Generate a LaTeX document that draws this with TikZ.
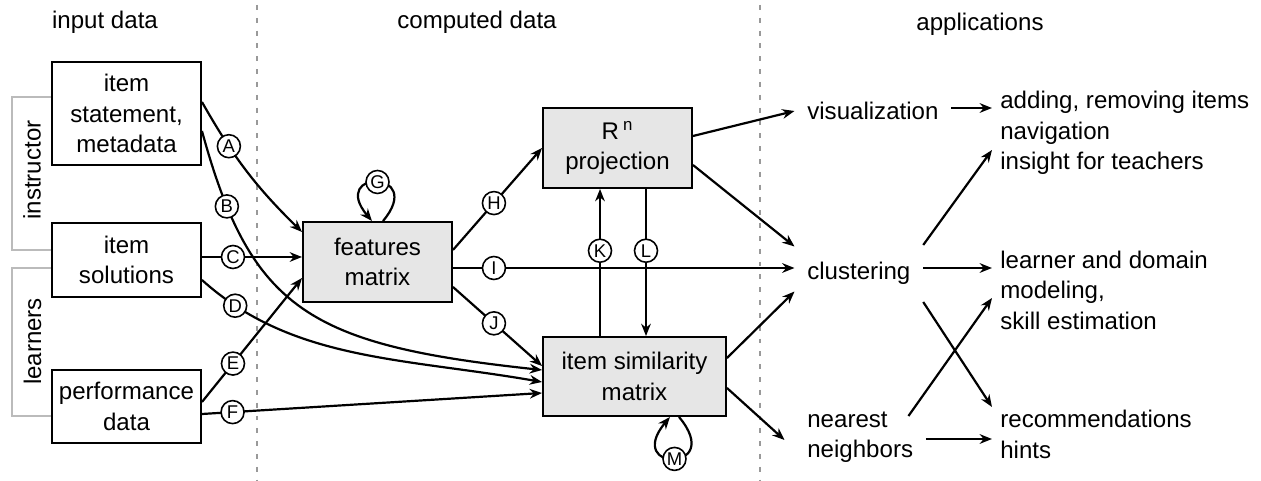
\documentclass[tikz,border=0pt]{standalone}
\usepackage{fontspec}
\setmainfont{Liberation Sans}
\usepackage{tikz}
\usepackage{xcolor}
\usetikzlibrary{arrows.meta, positioning}
\definecolor{boxgray}{HTML}{E6E6E6}
\definecolor{rolegray}{HTML}{BBBBBB}
\definecolor{divgray}{HTML}{999999}
\tikzstyle{databox} = [rectangle, minimum width=2.98cm, text centered, align=center, draw=black, fill=white, line width=1.1pt, inner sep=0pt]
\tikzstyle{compbox} = [databox, fill=boxgray, minimum height=1.6cm]
\tikzstyle{midtext} = [anchor=west, align=left, inner xsep=0.25cm, inner ysep=0.3cm]
\tikzstyle{apptext} = [anchor=west, align=left, inner xsep=0.16cm, inner ysep=0pt]
\tikzstyle{edgetag} = [circle, draw=black, fill=white, line width=0.9pt, minimum size=0.46cm, inner sep=0pt, font=\fontsize{10.5}{12}\selectfont]
\tikzstyle{arrow} = [line width=1.25pt, -{Stealth[length=7pt,width=5.5pt]}]
\tikzstyle{divider} = [draw=divgray, line width=0.6pt, dash pattern=on 2.8pt off 4.5pt]
\tikzstyle{role} = [draw=rolegray, line width=1.3pt]

\begin{document}
\begin{tikzpicture}[node distance=2.93cm, font=\fontsize{13.7}{17.3}\selectfont]
        \useasboundingbox (0,0) rectangle (25.22,-9.62);

        % column titles and separators
        \node (hinput) at (2.1,-0.44) {input data};
        \node (hcomputed) at (9.54,-0.44) {computed data};
        \node (happs) at (19.6,-0.48) {applications};
        \draw [divider] (5.14,-0.1) -- (5.14,-9.6);
        \draw [divider] (15.2,-0.1) -- (15.2,-9.6);

        % who provides the input
        \draw [role] (1.04,-1.94) -- (0.24,-1.94) -- (0.24,-5.0) -- (1.04,-5.0);
        \draw [role] (1.04,-5.36) -- (0.24,-5.36) -- (0.24,-8.32) -- (1.04,-8.32);
        \node (instructor) [rotate=90] at (0.64,-3.40) {instructor};
        \node (learners) [rotate=90] at (0.65,-6.83) {learners};

        % input data
        \node (stmt) [databox, minimum height=2.06cm] at (2.53,-2.27) {item\\statement,\\metadata};
        \node (sol) [databox, minimum height=1.48cm, below of=stmt] {item\\solutions};
        \node (perf) [databox, minimum height=1.46cm, below of=sol] {performance\\data};

        % computed data
        \node (feat) [compbox] at (7.55,-5.24) {features\\matrix};
        \node (proj) [compbox] at (12.35,-2.96) {R\,\textsuperscript{n}\\projection};
        \node (sim) [compbox, minimum width=3.66cm, minimum height=1.58cm] at (12.69,-7.53) {item similarity\\matrix};

        % applications
        \node (vis) [midtext, inner ysep=0pt] at (15.89,-2.22) {visualization};
        \node (clust) [midtext] at (15.89,-5.47) {clustering};
        \node (near) [midtext] at (15.89,-8.74) {nearest\\neighbors};
        \node (adding) [apptext] at (19.84,-2.66) {adding, removing items\\navigation\\insight for teachers};
        \node (learner) [apptext] at (19.84,-5.80) {learner and domain\\modeling,\\skill estimation};
        \node (recom) [apptext] at (19.84,-8.69) {recommendations\\hints};

        \draw [arrow] ([yshift=0.23cm]stmt.east) to[bend right=8] node[edgetag, pos=0.3] {A} ([yshift=0.6cm]feat.west);
        \draw [arrow] ([yshift=-0.35cm]stmt.east) .. controls +(0.98,-3.58) and +(-4.66,0.5) .. ([yshift=0.13cm]sim.west) node[edgetag, pos=0.16] {B};
        \draw [arrow] ([yshift=0.06cm]sol.east) -- node[edgetag, pos=0.31] {C} ([yshift=0.06cm]sol.east -| feat.west);
        \draw [arrow] ([yshift=-0.40cm]sol.east) .. controls +(1.8,-1.62) and +(-2.82,0.49) .. ([yshift=-0.11cm]sim.west) node[edgetag, pos=0.12] {D};
        \draw [arrow] ([yshift=0.09cm]perf.east) -- node[edgetag, pos=0.31] {E} ([yshift=-0.32cm]feat.west);
        \draw [arrow] ([yshift=-0.15cm]perf.east) -- node[edgetag, pos=0.09] {F} ([yshift=-0.33cm]sim.west);
        \draw [arrow] ([xshift=0.11cm]feat.north) .. controls +(50:1.36) and +(130:1.36) .. ([xshift=-0.11cm]feat.north) node[edgetag, pos=0.5] {G};

        \draw [arrow] ([yshift=0.24cm]feat.east) -- node[edgetag, pos=0.46] {H} (proj.west);
        \draw [arrow] ([yshift=-0.12cm]feat.east) -- node[edgetag, pos=0.12] {I} ([yshift=-0.12cm]feat.east -| clust.west);
        \draw [arrow] ([yshift=-0.50cm]feat.east) -- node[edgetag, pos=0.46] {J} ([yshift=0.21cm]sim.west);
        \draw [arrow] ([xshift=-0.69cm]sim.north) -- node[edgetag, pos=0.58] {K} ([xshift=-0.69cm]sim.north |- proj.south);
        \draw [arrow] ([xshift=0.57cm]proj.south) -- node[edgetag, pos=0.42] {L} ([xshift=0.57cm]proj.south |- sim.north);
        \draw [arrow] ([xshift=0.89cm]sim.south) .. controls +(-50:1.46) and +(-130:1.46) .. ([xshift=0.71cm]sim.south) node[edgetag, pos=0.5] {M};

        \draw [arrow] ([yshift=0.24cm]proj.east) -- (vis.west);
        \draw [arrow] ([yshift=-0.34cm]proj.east) -- ([yshift=0.54cm]clust.west);
        \draw [arrow] ([yshift=0.37cm]sim.east) -- ([yshift=-0.36cm]clust.west);
        \draw [arrow] ([yshift=-0.23cm]sim.east) -- ([xshift=-0.2cm,yshift=-0.06cm]near.west);

        \draw [arrow] ([yshift=0.06cm]vis.east) -- ([yshift=0.06cm]vis.east -| adding.west);
        \draw [arrow] ([yshift=0.11cm]clust.east) -- ([yshift=0.11cm]clust.east -| learner.west);
        \draw [arrow] ([yshift=-0.04cm]near.east) -- ([yshift=-0.04cm]near.east -| recom.west);
        \draw [arrow] ([yshift=0.57cm]clust.east) -- ([yshift=-0.34cm]adding.west);
        \draw [arrow] ([yshift=-0.57cm]clust.east) -- ([yshift=0.55cm]recom.west);
        \draw [arrow] ([xshift=-0.35cm,yshift=0.42cm]near.east) -- ([yshift=-0.16cm]learner.west);


    \end{tikzpicture}
\end{document}
